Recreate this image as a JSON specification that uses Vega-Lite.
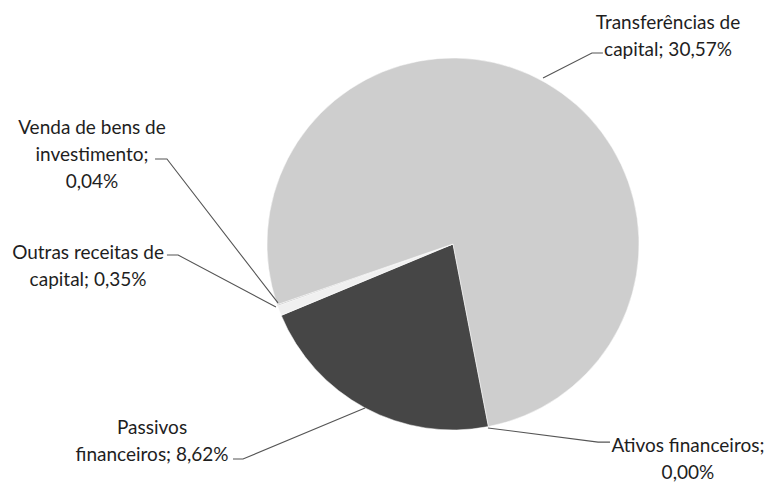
{
  "$schema": "https://vega.github.io/schema/vega-lite/v6.json",
  "width": 770,
  "height": 486,
  "autosize": {"type": "none"},
  "padding": 0,
  "background": "#ffffff",
  "config": {"view": {"stroke": null}},
  "datasets": {
    "pie": [
      {"categoria": "Ativos financeiros", "valor": 0.00, "ordem": 1},
      {"categoria": "Passivos financeiros", "valor": 8.62, "ordem": 2},
      {"categoria": "Outras receitas de capital", "valor": 0.35, "ordem": 3},
      {"categoria": "Venda de bens de investimento", "valor": 0.04, "ordem": 4},
      {"categoria": "Transferências de capital", "valor": 30.57, "ordem": 5}
    ],
    "leaders": [
      {"serie": "T", "p": 1, "u": 0.484, "v": 0.892},
      {"serie": "T", "p": 2, "u": 0.747, "v": 1.027},
      {"serie": "T", "p": 3, "u": 0.806, "v": 1.027},
      {"serie": "V", "p": 1, "u": -0.941, "v": -0.317},
      {"serie": "V", "p": 2, "u": -1.538, "v": 0.457},
      {"serie": "V", "p": 3, "u": -1.602, "v": 0.457},
      {"serie": "O", "p": 1, "u": -0.952, "v": -0.339},
      {"serie": "O", "p": 2, "u": -1.478, "v": -0.059},
      {"serie": "O", "p": 3, "u": -1.538, "v": -0.059},
      {"serie": "P", "p": 1, "u": -0.473, "v": -0.882},
      {"serie": "P", "p": 2, "u": -1.129, "v": -1.156},
      {"serie": "P", "p": 3, "u": -1.183, "v": -1.156},
      {"serie": "A", "p": 1, "u": 0.188, "v": -0.989},
      {"serie": "A", "p": 2, "u": 0.780, "v": -1.065},
      {"serie": "A", "p": 3, "u": 0.844, "v": -1.065}
    ],
    "labels": [
      {"texto": "Transferências de\ncapital; 30,57%", "u": 1.156, "v": 1.188},
      {"texto": "Venda de bens de\ninvestimento;\n0,04%", "u": -1.941, "v": 0.624},
      {"texto": "Outras receitas de\ncapital; 0,35%", "u": -1.962, "v": -0.048},
      {"texto": "Passivos\nfinanceiros; 8,62%", "u": -1.618, "v": -0.989},
      {"texto": "Ativos financeiros;\n0,00%", "u": 1.263, "v": -1.086}
    ]
  },
  "layer": [
    {
      "data": {"name": "pie"},
      "mark": {"type": "arc", "outerRadius": 186, "stroke": "#ffffff", "strokeWidth": 0.5},
      "encoding": {
        "x": {"datum": 0, "type": "quantitative", "scale": {"domain": [-2.4355, 1.7043], "nice": false, "zero": false}, "axis": null},
        "y": {"datum": 0, "type": "quantitative", "scale": {"domain": [-1.3011, 1.3118], "nice": false, "zero": false}, "axis": null},
        "theta": {"field": "valor", "type": "quantitative", "stack": true, "scale": {"range": [2.950, 9.233]}},
        "order": {"field": "ordem", "type": "quantitative"},
        "color": {
          "field": "categoria", "type": "nominal", "legend": null,
          "scale": {
            "domain": ["Ativos financeiros", "Passivos financeiros", "Outras receitas de capital", "Venda de bens de investimento", "Transferências de capital"],
            "range": ["#555555", "#464646", "#f0f0f0", "#b8b8b8", "#cecece"]
          }
        }
      }
    },
    {
      "data": {"name": "leaders"},
      "mark": {"type": "line", "color": "#555555", "strokeWidth": 1.1},
      "encoding": {
        "x": {"field": "u", "type": "quantitative"},
        "y": {"field": "v", "type": "quantitative"},
        "detail": {"field": "serie"},
        "order": {"field": "p", "type": "quantitative"}
      }
    },
    {
      "data": {"name": "labels"},
      "mark": {"type": "text", "font": "Lato", "fontSize": 19, "color": "#1e1e1e", "align": "center", "baseline": "middle", "lineBreak": "\n", "lineHeight": 27},
      "encoding": {
        "x": {"field": "u", "type": "quantitative"},
        "y": {"field": "v", "type": "quantitative"},
        "text": {"field": "texto"}
      }
    }
  ]
}
